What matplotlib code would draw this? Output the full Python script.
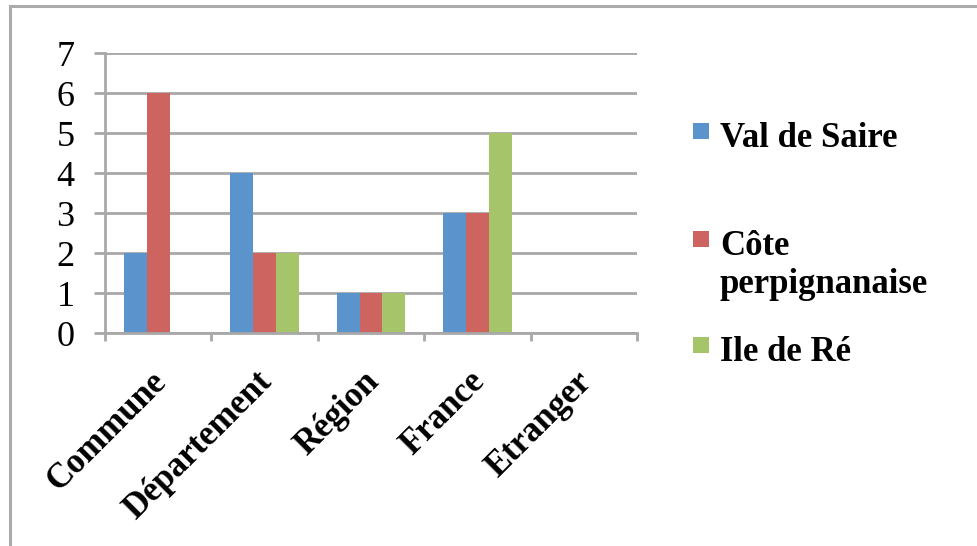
import numpy as np
import matplotlib
matplotlib.use("Agg")
import matplotlib.pyplot as plt
from matplotlib.transforms import ScaledTranslation
from matplotlib.lines import Line2D
from matplotlib.patches import Rectangle

plt.rcParams['font.family'] = ['Liberation Serif', 'DejaVu Serif']

# Data
categories = ['Commune', 'Département', 'Région', 'France', 'Etranger']
series_names = ['Val de Saire', 'Côte\nperpignanaise', 'Ile de Ré']
val_de_saire = [2, 4, 1, 3, 0]
cote_perpignanaise = [6, 2, 1, 3, 0]
ile_de_re = [0, 2, 1, 5, 0]
series_values = [val_de_saire, cote_perpignanaise, ile_de_re]
colors = ['#5B93CC', '#CD645F', '#A6C46A']
y_ticks = list(range(0, 8))

W, H = 978, 546
fig = plt.figure(figsize=(W / 100, H / 100), dpi=100)
ax = fig.add_axes([105 / W, (H - 333) / H, (637 - 105) / W, (333 - 53) / H])

grid_col = '#A8A8A8'
x = np.arange(len(categories)) + 0.5
bw = 0.214
for i, (vals, col) in enumerate(zip(series_values, colors)):
    ax.bar(x + (i - 1) * bw, vals, width=bw, color=col, zorder=3, linewidth=0)

ax.set_xlim(0, len(categories))
ax.set_ylim(0, 7)
ax.set_yticks(y_ticks)
ax.set_yticklabels([str(t) for t in y_ticks], fontsize=26)
ax.yaxis.grid(True, color=grid_col, linewidth=2.0, zorder=0)
ax.set_axisbelow(True)

for s in ['top', 'right']:
    ax.spines[s].set_visible(False)
for s in ['left', 'bottom']:
    ax.spines[s].set_color(grid_col)
    ax.spines[s].set_linewidth(2.0)
    ax.spines[s].set_zorder(4)

ax.tick_params(axis='y', length=8, width=2.0, color=grid_col, pad=14)
ax.set_xticks(x)
ax.set_xticks(np.arange(len(categories) + 1), minor=True)
ax.tick_params(axis='x', which='major', length=0, pad=10)
ax.tick_params(axis='x', which='minor', length=6, width=2.0, color=grid_col)
ax.set_xticklabels(categories, fontsize=25, fontweight='bold', rotation=45,
                   ha='right', va='center', rotation_mode='anchor')
offset = ScaledTranslation(0.03, -0.30, fig.dpi_scale_trans)
for lab in ax.get_xticklabels():
    lab.set_transform(lab.get_transform() + offset)

# legend drawn by hand so the marker sits on the first line of each label
leg_y = [131, 239, 345]
for name, col, yy in zip(series_names, colors, leg_y):
    fig.patches.append(Rectangle((693 / W, 1 - (yy + 8) / H), 16 / W, 16 / H,
                                 transform=fig.transFigure, color=col, linewidth=0))
    fig.text(720 / W, 1 - (yy - 9) / H, name, fontsize=25, fontweight='bold',
             ha='left', va='top', linespacing=1.2)

# surrounding frame
fig.add_artist(Line2D([10 / W, 1], [1 - 5.5 / H, 1 - 5.5 / H], color='#ABABAB',
                      linewidth=2.2, transform=fig.transFigure))
fig.add_artist(Line2D([10 / W, 10 / W], [0, 1 - 5.5 / H], color='#ABABAB',
                      linewidth=2.2, transform=fig.transFigure))

fig.savefig('out.png', dpi=100)
